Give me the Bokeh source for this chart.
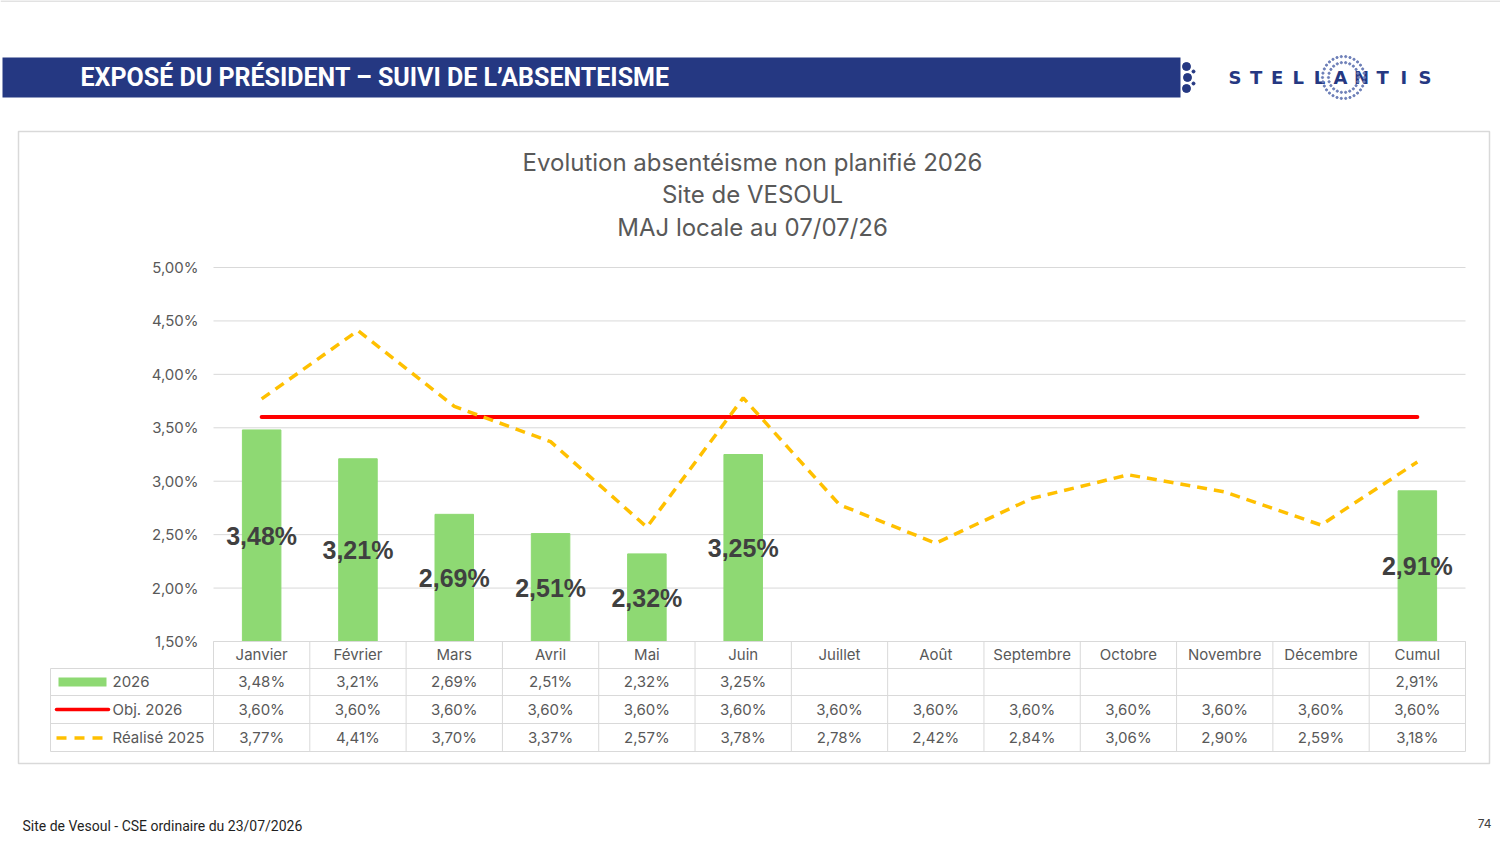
from bokeh.plotting import figure
from bokeh.models import ColumnDataSource, Range1d
from bokeh.core.properties import value
from bokeh.embed import file_html
from bokeh.resources import INLINE
import math

# --- data ---
months = ['Janvier', 'Février', 'Mars', 'Avril', 'Mai', 'Juin', 'Juillet', 'Août',
          'Septembre', 'Octobre', 'Novembre', 'Décembre', 'Cumul']
real_2026 = [3.48, 3.21, 2.69, 2.51, 2.32, 3.25, None, None, None, None, None, None, 2.91]
obj_2026 = [3.60, 3.60, 3.60, 3.60, 3.60, 3.60, 3.60, 3.60, 3.60, 3.60, 3.60, 3.60, 3.60]
real_2025 = [3.77, 4.41, 3.70, 3.37, 2.57, 3.78, 2.78, 2.42, 2.84, 3.06, 2.90, 2.59, 3.18]
y_ticks = [1.5, 2.0, 2.5, 3.0, 3.5, 4.0, 4.5, 5.0]
series_names = ['2026', 'Obj. 2026', 'Réalisé 2025']

title_lines = ['Evolution absentéisme non planifié 2026', 'Site de VESOUL', 'MAJ locale au 07/07/26']
header = 'EXPOSÉ DU PRÉSIDENT – SUIVI DE L’ABSENTEISME'
footer = 'Site de Vesoul - CSE ordinaire du 23/07/2026'
page_no = '74'

GREEN = '#8ed973'
RED = '#ff0000'
YELLOW = '#ffc000'
NAVY = '#253882'
GREY = '#595959'
LINE = '#d9d9d9'
FONT = 'Inter'
BOLD_FONT = "'Liberation Sans', Roboto"
NARROW = "'Liberation Sans Narrow', Roboto"

# page size and where the plot area sits on the slide (pixels)
W, H = 1500, 842
FL, FR, FT, FB = 213, 1465, 267, 641
CW = (FR - FL) / len(months)
PPU = (FB - FT) / (y_ticks[-1] - y_ticks[0])


def pct(v):
    return ('%.2f' % v).replace('.', ',') + '%'


# the frame is the whole slide, in slide pixels (y downwards);
# 'm' = month slots, 'v' = percent scale, both placed on the chart area
p = figure(x_range=Range1d(0, W), y_range=Range1d(H, 0), width=W, height=H,
           output_backend="svg", toolbar_location=None, min_border=0,
           x_axis_type=None, y_axis_type=None)
p.grid.visible = False
p.outline_line_color = None
p.background_fill_color = 'white'
p.border_fill_color = 'white'
p.extra_x_ranges = {'m': Range1d(-FL / CW, (W - FL) / CW)}
p.extra_y_ranges = {'v': Range1d(y_ticks[0] - (H - FB) / PPU, y_ticks[-1] + FT / PPU)}

pos = [i + 0.5 for i in range(len(months))]


def label(x, y, s, size, color=GREY, font=FONT, style='normal', align='left'):
    p.text(x=[x], y=[y], text=[s], text_font=value(font), text_font_size='%dpx' % size,
           text_color=color, text_font_style=style, text_align=align, text_baseline='middle')


# slide edge and chart box
p.segment(x0=0, x1=W, y0=0.5, y1=0.5, line_color=LINE, line_width=1.5)
p.quad(left=18, right=1489, top=131, bottom=763, fill_color=None, line_color=LINE, line_width=1.5)

# slide header band
p.quad(left=2, right=1180, top=57, bottom=97, fill_color=NAVY, line_color=None)
p.scatter(x=[1186, 1187, 1186, 1193, 1193], y=[66, 77, 88, 71, 83], size=[8, 8, 8, 3, 3],
          color=NAVY, marker='circle')
label(80, 77, header, 25, color='white', font=NARROW, style='bold')

# logo
for i, ch in enumerate('STELLANTIS'):
    label(1234.5 + i * 21.1, 77, ch, 18, color=NAVY, font='DejaVu Sans', style='bold', align='center')
rx, ry = [], []
for ring, n in [(15, 22), (21, 30)]:
    for k in range(n):
        a = 2 * math.pi * k / n
        rx.append(1343 + ring * math.cos(a))
        ry.append(77 + ring * math.sin(a))
p.scatter(x=rx, y=ry, size=2.2, color='#6d7fb8', marker='circle')

# chart title
for y, s in zip([162, 194, 227], title_lines):
    label(752, y, s, 24, align='center')

# grid and y ticks
p.segment(x0=FL, x1=FR, y0=y_ticks, y1=y_ticks, y_range_name='v', line_color=LINE, line_width=1)
p.text(x=[FL - 15] * len(y_ticks), y=y_ticks, text=[pct(t) for t in y_ticks], y_range_name='v',
       text_align='right', text_baseline='middle', text_font=value(FONT),
       text_font_size='15px', text_color=GREY)

# bars 2026
bx = [x for x, v in zip(pos, real_2026) if v is not None]
bv = [v for v in real_2026 if v is not None]
bars = ColumnDataSource(dict(x=bx, top=bv, mid=[(v + y_ticks[0]) / 2 for v in bv],
                             txt=[pct(v) for v in bv]))
p.vbar(x='x', top='top', bottom=y_ticks[0], width=0.4, color=GREEN, source=bars,
       x_range_name='m', y_range_name='v')

# objective and previous year
p.line(pos, obj_2026, line_color=RED, line_width=4, line_cap='round',
       x_range_name='m', y_range_name='v')
p.line(pos, real_2025, line_color=YELLOW, line_width=3.5, line_dash='10 7',
       x_range_name='m', y_range_name='v')

p.text(x='x', y='mid', text='txt', source=bars, x_range_name='m', y_range_name='v',
       text_align='center', text_baseline='middle', text_font=value(BOLD_FONT),
       text_font_style='bold', text_font_size='25px', text_color='#404040')

# data table
rows_y = [681, 709, 737]
p.text(x=pos, y=[654] * len(months), text=months, x_range_name='m',
       text_align='center', text_baseline='middle', text_font=value(FONT),
       text_font_size='15px', text_color=GREY)
for row_y, vals in zip(rows_y, [real_2026, obj_2026, real_2025]):
    xs = [x for x, v in zip(pos, vals) if v is not None]
    ts = [pct(v) for v in vals if v is not None]
    p.text(x=xs, y=[row_y] * len(xs), text=ts, x_range_name='m',
           text_align='center', text_baseline='middle', text_font=value(FONT),
           text_font_size='15px', text_color=GREY)
for row_y, name in zip(rows_y, series_names):
    label(112, row_y, name, 15)

p.segment(x0=FL, x1=FR, y0=FB, y1=FB, line_color=LINE, line_width=1)
p.segment(x0=[50] * 4, x1=[FR] * 4, y0=[668, 695, 723, 751], y1=[668, 695, 723, 751],
          line_color=LINE, line_width=1)
p.segment(x0=50, x1=50, y0=668, y1=751, line_color=LINE, line_width=1)
p.segment(x0=list(range(len(months) + 1)), x1=list(range(len(months) + 1)), y0=FB, y1=751,
          x_range_name='m', line_color=LINE, line_width=1)

# legend keys in the table
p.quad(left=58, right=106, top=677, bottom=686, fill_color=GREEN, line_color=None)
p.line([56, 108], [709, 709], line_color=RED, line_width=3.5, line_cap='round')
p.line([56, 104], [737.5, 737.5], line_color=YELLOW, line_width=3.5, line_dash='10 8')

# footer
label(22, 825, footer, 14, color='#1f1f1f', font=NARROW)
label(1491, 823, page_no, 12, color='#404040', align='right')

open("out.html", "w").write(file_html(p, INLINE))
